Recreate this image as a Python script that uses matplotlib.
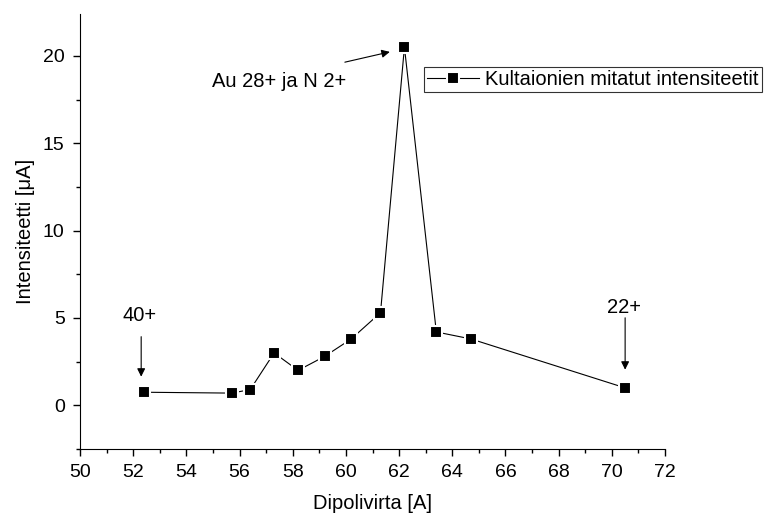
import matplotlib
matplotlib.use("Agg")
import matplotlib.pyplot as plt
from matplotlib.ticker import MultipleLocator

plt.rcParams['font.family'] = ['Liberation Sans', 'DejaVu Sans']

# dipolivirta (A) ja mitattu intensiteetti (uA)
virta = [52.4, 55.7, 56.4, 57.3, 58.2, 59.2, 60.2, 61.3, 62.2, 63.4, 64.7, 70.5]
intensiteetti = [0.75, 0.7, 0.9, 3.0, 2.0, 2.8, 3.8, 5.3, 20.5, 4.2, 3.8, 1.0]

fs = 14.5
nuoli = dict(arrowstyle='-|>', color='black', lw=0.8, mutation_scale=12,
             shrinkA=0, shrinkB=0)

fig = plt.figure(figsize=(7.65, 5.17), dpi=100)
ax = fig.add_axes([0.1046, 0.1315, 0.7647, 0.8415])

ax.plot(virta, intensiteetti, color='black', linewidth=0.8, marker='s',
        markersize=8.5, markerfacecolor='black', markeredgecolor='white',
        markeredgewidth=1.5, label='Kultaionien mitatut intensiteetit')

ax.set_xlim(50, 72)
ax.set_ylim(-2.5, 22.4)
ax.xaxis.set_major_locator(MultipleLocator(2))
ax.xaxis.set_minor_locator(MultipleLocator(1))
ax.yaxis.set_major_locator(MultipleLocator(5))
ax.yaxis.set_minor_locator(MultipleLocator(2.5))
ax.tick_params(which='major', direction='out', length=5, width=1, labelsize=14, pad=6)
ax.tick_params(which='minor', direction='out', length=3, width=1)
ax.spines['top'].set_visible(False)
ax.spines['right'].set_visible(False)

ax.set_xlabel('Dipolivirta [A]', fontsize=fs, labelpad=9)
ax.set_ylabel('Intensiteetti [\u03bcA]', fontsize=fs, labelpad=6)

# nuolet ja merkinnät
ax.text(52.25, 5.15, '40+', ha='center', va='center', fontsize=fs)
ax.annotate('', xy=(52.3, 1.64), xytext=(52.3, 3.93), arrowprops=nuoli)
ax.text(70.45, 5.6, '22+', ha='center', va='center', fontsize=fs)
ax.annotate('', xy=(70.5, 2.04), xytext=(70.5, 5.01), arrowprops=nuoli)
ax.annotate('', xy=(61.65, 20.23), xytext=(59.96, 19.64), arrowprops=nuoli)
ax.text(57.5, 18.55, 'Au 28+ ja N 2+', ha='center', va='center', fontsize=fs)

leg = ax.legend(loc='upper left', bbox_to_anchor=(0.588, 0.878), fontsize=fs,
                frameon=True, fancybox=False, borderpad=0.15, handlelength=2.6,
                handletextpad=0.3, borderaxespad=0)
leg.get_frame().set_edgecolor('black')
leg.get_frame().set_linewidth(0.8)

fig.savefig('out.png', dpi=100)
